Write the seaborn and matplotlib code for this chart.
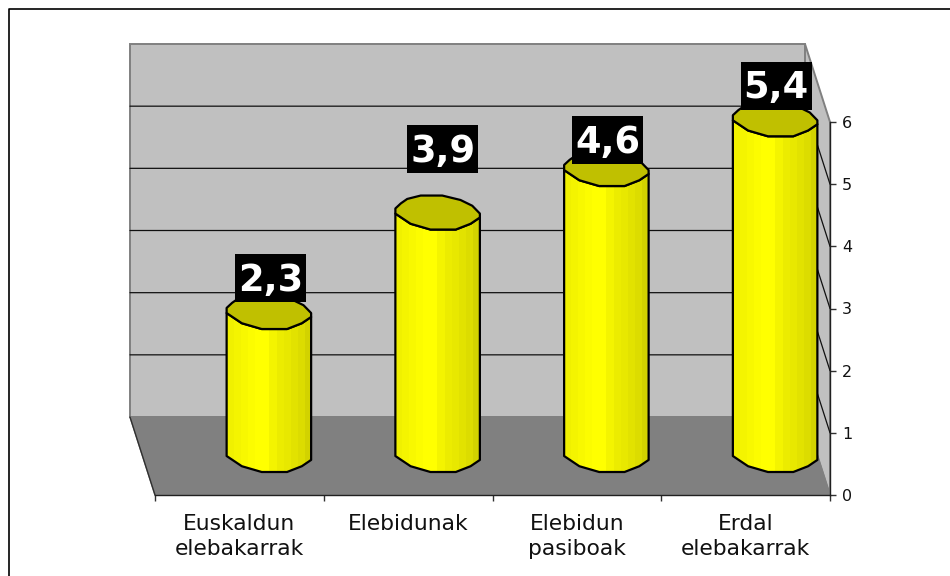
# Euskaldun / elebidun chart, fake 3D cylinders on a floor and back wall
import numpy as np
import matplotlib
matplotlib.use("Agg")
import matplotlib.pyplot as plt
from matplotlib.colors import ListedColormap
from matplotlib.patches import Polygon, Rectangle
from matplotlib.transforms import IdentityTransform
import seaborn as sns

# data
categories = ["Euskaldun\nelebakarrak", "Elebidunak", "Elebidun\npasiboak", "Erdal\nelebakarrak"]
values = [2.3, 3.9, 4.6, 5.4]
value_labels = ["2,3", "3,9", "4,6", "5,4"]
y_ticks = [0, 1, 2, 3, 4, 5, 6]

# label box offset from top of the bar, in pixels
label_dx = [1.5, 5, 1.6, 1]
label_dy = [34, 63.5, 29, 33.5]

# colours
yellow = "#FFFF00"
cap_color = "#C0C000"
wall_color = "#C0C0C0"
floor_color = "#808080"
strips = ["#F0F000", "#F4F400", "#F8F800", "#FCFC00", "#FFFF00", "#FFFF00",
          "#F4F400", "#ECEC00", "#E8E800", "#E2E200", "#DCDC00", "#D2D200"]

# depth of the fake 3D box, in data units
px_x = 168.75
px_y = 62.17
depth_x = -25 / px_x
depth_y = 78 / px_y
bar_base = 40 / px_y
bar_shift = 29.5 / px_x
bar_width = 84.5 / px_x
cap_h = 17 / px_y

# outline of the cap, normalised to half width / half height (y up)
cap_u = np.array([-1.0, -1.0, -0.64, -0.17, 0.43, 0.78, 1.0, 1.0, 0.82, 0.54, 0.11, -0.4, -0.72, -0.87])
cap_v = np.array([0.24, -0.06, -0.66, -1.0, -1.0, -0.66, -0.29, -0.06, 0.4, 0.74, 1.0, 1.0, 0.8, 0.54])

sns.set_theme(style="white")
plt.rcParams["font.family"] = ["DejaVu Sans"]

fig = plt.figure(figsize=(9.5, 5.76), dpi=100)
ax = fig.add_axes([155 / 950, (576 - 495) / 576, 675 / 950, 373 / 576])
ax.patch.set_visible(False)

sns.barplot(x=categories, y=values, ax=ax, color=yellow, saturation=1,
            width=bar_width, bottom=bar_base, linewidth=0, zorder=3)
bars = list(ax.patches)[:len(values)]

x0, x1 = -0.5, 3.5
top = y_ticks[-1]

# back wall, floor and side wall
ax.add_patch(Polygon([(x0 + depth_x, depth_y), (x1 + depth_x, depth_y),
                      (x1 + depth_x, top + depth_y), (x0 + depth_x, top + depth_y)],
                     fc=wall_color, ec=floor_color, lw=1.4, zorder=1, clip_on=False))
ax.add_patch(Polygon([(x1 + depth_x, depth_y), (x1, 0), (x1, top), (x1 + depth_x, top + depth_y)],
                     fc=wall_color, ec=floor_color, lw=1.4, zorder=1, clip_on=False))
ax.add_patch(Polygon([(x0 + depth_x, depth_y), (x1 + depth_x, depth_y), (x1, 0), (x0, 0)],
                     fc=floor_color, ec=floor_color, lw=1, zorder=1.1, clip_on=False))
ax.plot([x0 + depth_x, x0], [depth_y, 0], color="#303030", lw=1, zorder=1.2, clip_on=False)

# gridlines on both walls
for t in y_ticks[1:-1]:
    ax.plot([x0 + depth_x, x1 + depth_x, x1], [t + depth_y, t + depth_y, t],
            color="#101010", lw=0.9, zorder=1.5, clip_on=False)

# axes
ax.set_xlim(x0, x1)
ax.set_ylim(0, top)
ax.yaxis.tick_right()
ax.set_yticks(y_ticks)
ax.set_xticks(np.arange(x0, x1 + 1), labels=[""] * 5)
ax.set_xticks(np.arange(len(categories)), labels=categories, minor=True)
ax.tick_params(axis="x", which="major", length=4.5, width=1, color="#303030", bottom=True)
ax.tick_params(axis="x", which="minor", length=0, pad=13.5, labelsize=15.7, labelcolor="#111111")
ax.tick_params(axis="y", length=4.5, width=1, color="#303030", right=True, pad=4,
               labelsize=11.5, labelcolor="#111111")
for lbl in ax.get_xticklabels(minor=True):
    lbl.set_linespacing(1.3)
for name, spine in ax.spines.items():
    spine.set_visible(name in ("bottom", "right"))
    spine.set_color("#202020")
    spine.set_linewidth(1.0)
    spine.set_zorder(2)

# turn every flat bar into a cylinder
cmap = ListedColormap(strips)
for bar, val, lab, dx, dy in zip(bars, values, value_labels, label_dx, label_dy):
    bar.set_x(bar.get_x() + bar_shift)
    left = bar.get_x()
    half = bar.get_width() / 2
    cx = left + half
    y_top = bar.get_y() + bar.get_height()
    y_bot = bar.get_y()

    px = cx + cap_u * half
    low_x = px[1:7]
    low_v = cap_v[1:7] * cap_h
    body = np.vstack([
        np.column_stack([low_x, y_bot + low_v]),
        np.column_stack([low_x[::-1], y_top + low_v[::-1]]),
    ])
    ax.add_patch(Polygon(body, fc="none", ec="black", lw=1.6, zorder=4.5,
                         joinstyle="round", clip_on=False))
    im = ax.imshow(np.arange(len(strips))[None, :], cmap=cmap, aspect="auto", interpolation="nearest",
                   extent=[left, left + bar.get_width(), y_bot - 2 * cap_h, y_top + 2 * cap_h], zorder=4)
    im.set_clip_path(Polygon(body, transform=ax.transData))
    im.set_clip_box(fig.bbox)
    bar.set_visible(False)

    ax.add_patch(Polygon(np.column_stack([px, y_top + cap_v * cap_h]),
                         fc=cap_color, ec="black", lw=1.6, zorder=5, joinstyle="round", clip_on=False))

    # black box behind the number, a bit lower than the box centre for the text
    ax.set_xlim(x0, x1)
    ax.set_ylim(0, top)
    bx, by = ax.transData.transform((cx, y_top))
    ax.add_patch(Rectangle((bx + dx - 35.5, by + dy - 24), 71, 48, transform=IdentityTransform(),
                           fc="black", ec="none", zorder=6, clip_on=False))
    ax.annotate(lab, xy=(cx, y_top), xytext=(dx * 0.72, (dy - 2) * 0.72), textcoords="offset points",
                ha="center", va="center", color="white", fontsize=26.5, fontweight="bold",
                zorder=7, annotation_clip=False)

ax.set_xlim(x0, x1)
ax.set_ylim(0, top)

# frame of the picture, only top and left side are visible
fig.add_artist(plt.Line2D([8.5 / 950, 8.5 / 950, 1], [0, 567.5 / 576, 567.5 / 576], color="black", lw=1.2))

fig.savefig("out.png", dpi=100)
